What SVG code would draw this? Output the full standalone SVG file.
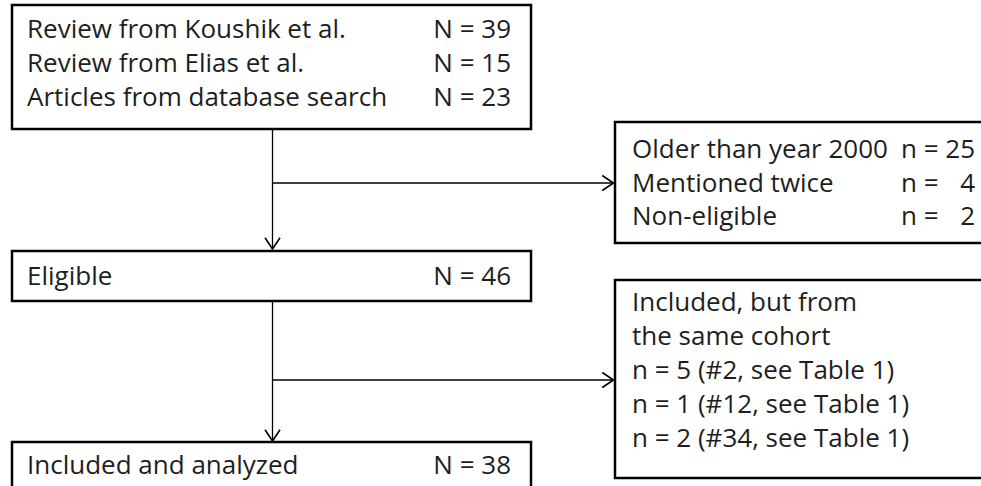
<svg xmlns="http://www.w3.org/2000/svg" width="981" height="486" viewBox="0 0 981 486">
<style>
.box{fill:#fff;stroke:#000;stroke-width:2.5}
.t{font-family:"Open Sans","Noto Sans","Liberation Sans",sans-serif;font-size:26px;fill:#1e1e1e}
.e{text-anchor:end}
.c{fill:none;stroke:#000;stroke-width:1.3}
</style>
<defs>
<marker id="ah" markerUnits="userSpaceOnUse" markerWidth="20" markerHeight="20" refX="0" refY="0" viewBox="-12 -8 14 16" orient="auto" overflow="visible">
<path d="M-9,-6 L0,0 L-9,6" fill="none" stroke="#000" stroke-width="1.3"/>
</marker>
</defs>
<rect width="981" height="486" fill="#fff"/>
<g id="connectors">
<path class="c" d="M272.5,129 V249" marker-end="url(#ah)"/>
<path class="c" d="M272.5,183 H613.5" marker-end="url(#ah)"/>
<path class="c" d="M272.5,301 V441" marker-end="url(#ah)"/>
<path class="c" d="M272.5,380 H613.5" marker-end="url(#ah)"/>
</g>
<g id="sources">
<rect class="box" x="12" y="5" width="519" height="124"/>
<text class="t" x="27" y="38">Review from Koushik et al.</text>
<text class="t" x="27" y="72">Review from Elias et al.</text>
<text class="t" x="27" y="106">Articles from database search</text>
<text class="t e" x="511" y="38">N = 39</text>
<text class="t e" x="511" y="72">N = 15</text>
<text class="t e" x="511" y="106">N = 23</text>
</g>
<g id="excluded">
<rect class="box" x="615" y="122" width="380" height="121"/>
<text class="t" x="632" y="158">Older than year 2000</text>
<text class="t" x="632" y="191.5">Mentioned twice</text>
<text class="t" x="632" y="225">Non-eligible</text>
<text class="t"><tspan x="901" y="158">n =</tspan><tspan class="e" x="975" y="158">25</tspan></text>
<text class="t"><tspan x="901" y="191.5">n =</tspan><tspan class="e" x="975" y="191.5">4</tspan></text>
<text class="t"><tspan x="901" y="225">n =</tspan><tspan class="e" x="975" y="225">2</tspan></text>
</g>
<g id="eligible">
<rect class="box" x="12" y="251" width="519" height="50"/>
<text class="t" x="27" y="285">Eligible</text>
<text class="t e" x="511" y="285">N = 46</text>
</g>
<g id="same-cohort">
<rect class="box" x="615" y="280" width="380" height="198"/>
<text class="t" x="632" y="311">Included, but from</text>
<text class="t" x="632" y="345">the same cohort</text>
<text class="t" x="632" y="379">n = 5 (#2, see Table 1)</text>
<text class="t" x="632" y="413">n = 1 (#12, see Table 1)</text>
<text class="t" x="632" y="447">n = 2 (#34, see Table 1)</text>
</g>
<g id="included">
<rect class="box" x="12" y="442" width="519" height="60"/>
<text class="t" x="27" y="474">Included and analyzed</text>
<text class="t e" x="511" y="474">N = 38</text>
</g>
</svg>
